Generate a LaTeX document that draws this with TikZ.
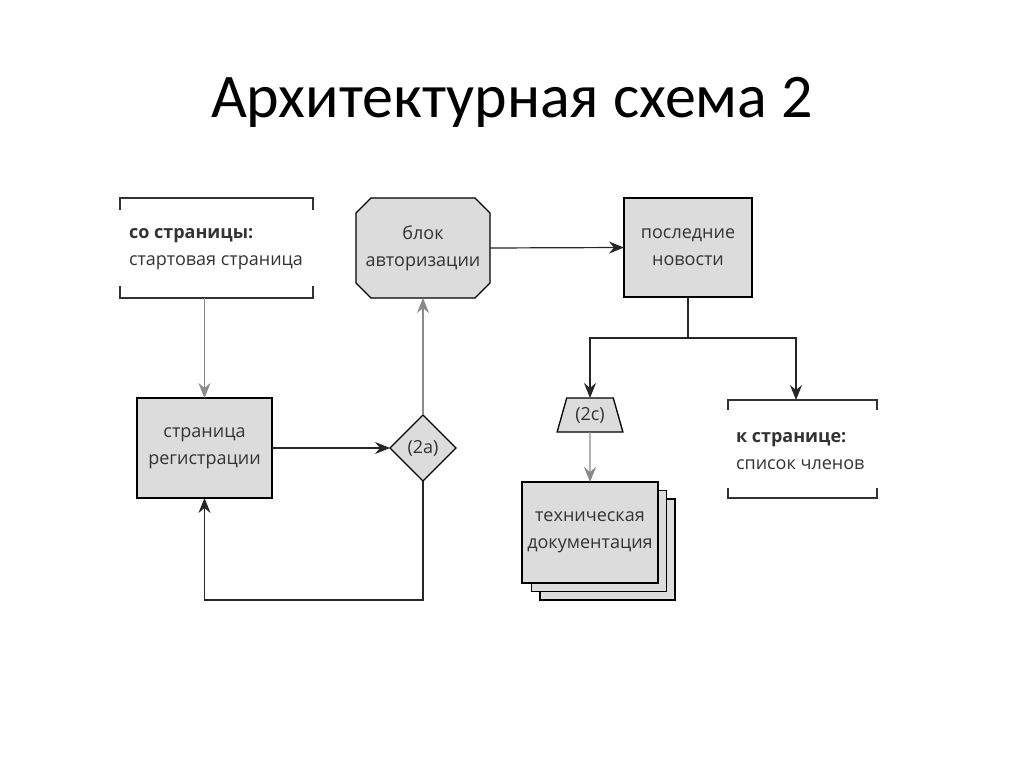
\documentclass[tikz,border=0pt]{standalone}
\usepackage{fontspec}
\setmainfont{Open Sans}
\newfontfamily\titlefont{Carlito}
\usetikzlibrary{shapes.geometric,shapes.misc,arrows.meta,backgrounds}
\definecolor{boxgray}{HTML}{DCDCDC}
\definecolor{linegray}{HTML}{8A8A8A}
\begin{document}
\begin{tikzpicture}[x=1pt,y=-1pt,
  every node/.style={inner sep=0pt, outer sep=0pt, font=\fontsize{18}{27}\selectfont},
  grbox/.style={draw=black, line width=1.3pt, fill=boxgray, align=center, text=black!80},
  arr/.style={draw=black!85, line width=1.2pt, -{Stealth[length=15pt,width=12pt,inset=5pt]}},
  garr/.style={arr, draw=linegray},
  ln/.style={draw=black!85, line width=1.2pt},
  brk/.style={draw=black!80, line width=1.3pt},
]
\useasboundingbox (0,0) rectangle (1024,767);
\node (title) at (512,102) {\titlefont\fontsize{62}{70}\selectfont Архитектурная схема 2};

% source bracket box
\node (src) [minimum width=193pt, minimum height=100pt] at (216.5,248) {};
\node (srctxt) [anchor=west, align=left, text=black!80] at (129,249) {\textbf{со страницы:}\\стартовая страница};
\draw[brk] ([yshift=-12pt]src.north west) -- (src.north west) -- (src.north east) -- ([yshift=-12pt]src.north east);
\draw[brk] ([yshift=12pt]src.south west) -- (src.south west) -- (src.south east) -- ([yshift=12pt]src.south east);

% registration page
\node (reg) [grbox, minimum width=135pt, minimum height=100pt] at (204.5,448) {страница\\регистрации};

% decision 2a
\node (d) [grbox, diamond, aspect=1, minimum width=66pt, minimum height=66pt] at (423,448) {(2a)};

% auth block (octagon drawn around the node)
\node (auth) [align=center, text=black!80, minimum width=134pt, minimum height=100pt] at (423,248) {блок\\авторизации};
\begin{scope}[on background layer]
\fill[white] (0,0) rectangle (1024,767);
\path[grbox] ([xshift=15pt]auth.north west) -- ([xshift=-15pt]auth.north east)
  -- ([yshift=-15pt]auth.north east) -- ([yshift=15pt]auth.south east)
  -- ([xshift=-15pt]auth.south east) -- ([xshift=15pt]auth.south west)
  -- ([yshift=15pt]auth.south west) -- ([yshift=-15pt]auth.north west) -- cycle;
\end{scope}

% news
\node (news) [grbox, minimum width=128pt, minimum height=99pt] at (688,247.5) {последние\\новости};

% trapezium 2c
\node (trap) [grbox, trapezium, trapezium stretches=true, trapezium angle=69, minimum width=66pt, minimum height=34pt] at (590,415) {(2c)};

% document stack
\node (doc3) [grbox, minimum width=135pt, minimum height=101pt] at (607.5,549.5) {};
\node (doc2) [grbox, minimum width=135pt, minimum height=101pt] at (599,541) {};
\node (doc) [grbox, minimum width=136pt, minimum height=101pt] at (590,532.5) {техническая\\документация};

% destination bracket box
\node (dst) [minimum width=149pt, minimum height=98pt] at (802.5,449) {};
\node (dsttxt) [anchor=west, align=left, text=black!80] at (736,451) {\textbf{к странице:}\\список членов};
\draw[brk] ([yshift=-10pt]dst.north west) -- (dst.north west) -- (dst.north east) -- ([yshift=-10pt]dst.north east);
\draw[brk] ([yshift=10pt]dst.south west) -- (dst.south west) -- (dst.south east) -- ([yshift=10pt]dst.south east);

% connectors
\coordinate (loopY) at (0,600);
\coordinate (split) at (0,338);
\coordinate (rt) at (796,338);
\draw[garr] (reg.north |- src.south) -- (reg.north);
\draw[arr] (reg.east) -- (d.west);
\draw[garr] (d.north) -- (auth.south);
\draw[arr] (d.south) -- (d.south |- loopY) -| (reg.south);
\draw[arr] (auth.east) -- (news.west);
\draw[ln] (news.south) -- (news.south |- split);
\draw[arr] (news.south |- split) -| (trap.north);
\draw[arr] (news.south |- split) -- (rt) -- (rt |- dst.north);
\draw[garr] (trap.south) -- (doc.north);
\end{tikzpicture}
\end{document}
